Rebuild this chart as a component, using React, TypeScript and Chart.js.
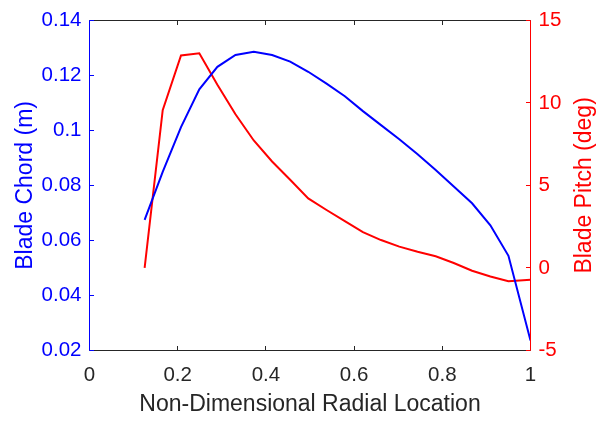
import React, { useEffect, useRef } from "react";
import { Chart, registerables } from "chart.js";

Chart.register(...registerables);

// ---- data ----
const radialLocation = [
  0.125, 0.166, 0.2075, 0.249, 0.29, 0.331, 0.3725, 0.414, 0.455, 0.496, 0.5375,
  0.579, 0.62, 0.661, 0.7025, 0.744, 0.785, 0.826, 0.8675, 0.909, 0.95, 1.0,
];
const bladeChord = [
  0.0675, 0.0849, 0.1012, 0.1149, 0.1231, 0.1274, 0.1286, 0.1274, 0.125, 0.1213,
  0.117, 0.1124, 0.107, 0.1019, 0.0968, 0.0913, 0.0856, 0.0796, 0.0735, 0.0655,
  0.0544, 0.0236,
];
const bladePitch = [
  0.0, 9.56, 12.87, 13.0, 11.1, 9.31, 7.72, 6.45, 5.34, 4.21, 3.51, 2.83, 2.17,
  1.69, 1.29, 0.98, 0.71, 0.3, -0.17, -0.52, -0.81, -0.72,
];

const xTickValues = [0, 0.2, 0.4, 0.6, 0.8, 1];
const xTickLabels = ["0", "0.2", "0.4", "0.6", "0.8", "1"];
const chordTickValues = [0.02, 0.04, 0.06, 0.08, 0.1, 0.12, 0.14];
const chordTickLabels = ["0.02", "0.04", "0.06", "0.08", "0.1", "0.12", "0.14"];
const pitchTickValues = [-5, 0, 5, 10, 15];
const pitchTickLabels = ["-5", "0", "5", "10", "15"];

const xTitle = "Non-Dimensional Radial Location";
const chordTitle = "Blade Chord (m)";
const pitchTitle = "Blade Pitch (deg)";

// ---- styles ----
const BLUE = "#0000ff";
const RED = "#ff0000";
const GRAY = "#262626";
const FONT = '"Liberation Sans", Helvetica, Arial, sans-serif';
const TICK_SIZE = 20.5;
const TITLE_SIZE = 23;
const TICK_LEN = 4.5;

const framePlugin = {
  id: "frame",
  afterDatasetsDraw(chart: any) {
    const { ctx, chartArea: a, scales } = chart;
    const c = (v: number) => Math.floor(v) + 0.5;
    const L = c(a.left), R = c(a.right), T = c(a.top), B = c(a.bottom);
    const line = (x1: number, y1: number, x2: number, y2: number) => {
      ctx.beginPath();
      ctx.moveTo(x1, y1);
      ctx.lineTo(x2, y2);
      ctx.stroke();
    };
    ctx.save();
    ctx.lineWidth = 1;
    ctx.strokeStyle = GRAY;
    line(L, B, R, B);
    line(L, T, R, T);
    for (const t of scales.x.ticks) {
      const px = c(scales.x.getPixelForValue(t.value));
      line(px, B, px, B - TICK_LEN);
      line(px, T, px, T + TICK_LEN);
    }
    ctx.strokeStyle = BLUE;
    line(L, T, L, B);
    for (const t of scales.y.ticks) {
      const py = c(scales.y.getPixelForValue(t.value));
      line(L, py, L + TICK_LEN, py);
    }
    ctx.strokeStyle = RED;
    line(R, T, R, B);
    for (const t of scales.y1.ticks) {
      const py = c(scales.y1.getPixelForValue(t.value));
      line(R, py, R - TICK_LEN, py);
    }
    // right axis title, reading bottom-to-top
    ctx.translate(585, (a.top + a.bottom) / 2);
    ctx.rotate(-Math.PI / 2);
    ctx.fillStyle = RED;
    ctx.font = `${TITLE_SIZE}px ${FONT}`;
    ctx.textAlign = "center";
    ctx.textBaseline = "middle";
    ctx.fillText(pitchTitle, 0, 0);
    ctx.restore();
  },
};

export default function App() {
  const ref = useRef<HTMLCanvasElement | null>(null);
  useEffect(() => {
    if (!ref.current) return;
    const chart = new Chart(ref.current, {
      type: "line",
      data: {
        datasets: [
          {
            label: chordTitle,
            data: radialLocation.map((x, i) => ({ x, y: bladeChord[i] })),
            borderColor: BLUE,
            borderWidth: 2,
            pointRadius: 0,
            tension: 0,
            yAxisID: "y",
          },
          {
            label: pitchTitle,
            data: radialLocation.map((x, i) => ({ x, y: bladePitch[i] })),
            borderColor: RED,
            borderWidth: 2,
            pointRadius: 0,
            tension: 0,
            yAxisID: "y1",
          },
        ],
      },
      options: {
        responsive: false,
        animation: false,
        devicePixelRatio: 1,
        layout: { padding: { top: 8.5, left: 0, right: 0, bottom: 0 } },
        plugins: { legend: { display: false }, tooltip: { enabled: false } },
        scales: {
          x: {
            type: "linear",
            position: "bottom",
            min: 0,
            max: 1,
            grid: { display: false, drawTicks: false },
            border: { display: false },
            afterBuildTicks: (s: any) => {
              s.ticks = xTickValues.map((v) => ({ value: v }));
            },
            afterFit: (s: any) => {
              s.height = 73.5;
            },
            ticks: {
              color: GRAY,
              padding: 13,
              maxRotation: 0,
              autoSkip: false,
              font: { family: FONT, size: TICK_SIZE },
              callback: (_v: any, i: number) => xTickLabels[i],
            },
            title: {
              display: true,
              text: xTitle,
              color: GRAY,
              font: { family: FONT, size: TITLE_SIZE },
              padding: { top: 0, bottom: 5.5 },
            },
          },
          y: {
            type: "linear",
            position: "left",
            min: 0.02,
            max: 0.14,
            grid: { display: false, drawTicks: false },
            border: { display: false },
            afterBuildTicks: (s: any) => {
              s.ticks = chordTickValues.map((v) => ({ value: v }));
            },
            afterFit: (s: any) => {
              s.width = 89.5;
            },
            ticks: {
              color: BLUE,
              padding: 8,
              autoSkip: false,
              font: { family: FONT, size: TICK_SIZE },
              callback: (_v: any, i: number) => chordTickLabels[i],
            },
            title: {
              display: true,
              text: chordTitle,
              color: BLUE,
              font: { family: FONT, size: TITLE_SIZE },
              padding: { top: 11.5, bottom: 0 },
            },
          },
          y1: {
            type: "linear",
            position: "right",
            min: -5,
            max: 15,
            grid: { display: false, drawTicks: false },
            border: { display: false },
            afterBuildTicks: (s: any) => {
              s.ticks = pitchTickValues.map((v) => ({ value: v }));
            },
            afterFit: (s: any) => {
              s.width = 82.5;
            },
            ticks: {
              color: RED,
              padding: 8,
              autoSkip: false,
              font: { family: FONT, size: TICK_SIZE },
              callback: (_v: any, i: number) => pitchTickLabels[i],
            },
          },
        },
      },
      plugins: [framePlugin],
    } as any);
    return () => chart.destroy();
  }, []);
  return (
    <div style={{ position: "absolute", left: 0, top: 0, width: 613, height: 424, background: "#fff" }}>
      <canvas ref={ref} width={613} height={424} style={{ display: "block" }} />
    </div>
  );
}
